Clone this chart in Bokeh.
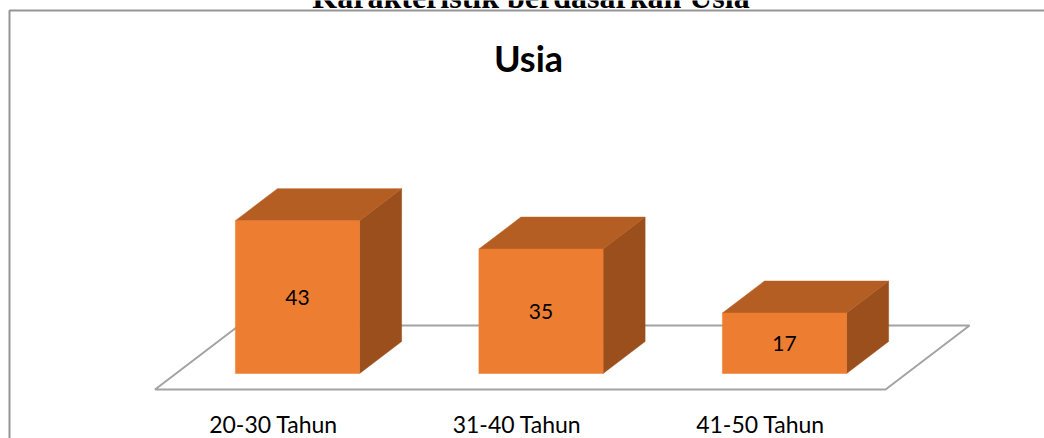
from bokeh.plotting import figure
from bokeh.models import Range1d
from bokeh.core.properties import value
from bokeh.embed import file_html
from bokeh.resources import INLINE

# Data
categories = ["20-30 Tahun", "31-40 Tahun", "41-50 Tahun"]
counts = [43, 35, 17]
chart_title = "Usia"
page_heading = "Karakteristik berdasarkan Usia"

# Canvas and axis ranges (x: category index, y: count)
W, H = 1044, 438
X0, X1 = -1.2197, 3.0677
Y0, Y1 = -18.28, 104.92

# 3D bar geometry in data units
BAR_W = 0.51
DX, DY = 0.1725, 9.0
FLOOR_FRONT, FLOOR_BACK = -4.5, 13.5
FLOOR_LEFT = -0.585

FRONT = "#ED7D31"
TOP = "#B55E23"
SIDE = "#9A4F1D"


def sx(px):
    return X0 + px / W * (X1 - X0)


def sy(py):
    return Y1 - py / H * (Y1 - Y0)


p = figure(width=W, height=H, output_backend="svg", toolbar_location=None,
           x_range=Range1d(X0, X1), y_range=Range1d(Y0, Y1),
           min_border=0, outline_line_color=None)
p.axis.visible = False
p.grid.visible = False
p.background_fill_color = "white"
p.border_fill_color = "white"

# Outer frame (top and left edges)
p.line([sx(9), sx(9), sx(W + 20)], [sy(H + 20), sy(10), sy(10)],
       line_color="#959595", line_width=2)

# Floor plane
n = len(categories)
fl, fr = FLOOR_LEFT, FLOOR_LEFT + n
span = (FLOOR_BACK - FLOOR_FRONT) / DY * DX
p.patch([fl, fr, fr + span, fl + span],
        [FLOOR_FRONT, FLOOR_FRONT, FLOOR_BACK, FLOOR_BACK],
        fill_color="white", line_color="#A3A3A3", line_width=2)

# Bars: side, top, front
xs = list(range(n))
lefts = [x - BAR_W / 2 for x in xs]
rights = [x + BAR_W / 2 for x in xs]

side_x = [[r, r + DX, r + DX, r] for r in rights]
side_y = [[0, DY, v + DY, v] for v in counts]
p.patches(side_x, side_y, fill_color=SIDE, line_color=SIDE, line_width=0.5)

top_x = [[l, r, r + DX, l + DX] for l, r in zip(lefts, rights)]
top_y = [[v, v, v + DY, v + DY] for v in counts]
p.patches(top_x, top_y, fill_color=TOP, line_color=TOP, line_width=0.5)

p.quad(left=lefts, right=rights, bottom=0, top=counts,
       fill_color=FRONT, line_color=FRONT, line_width=0.5)

# Value labels on the bar faces
p.text(x=xs, y=[v / 2 for v in counts], text=[str(v) for v in counts],
       text_font=value("Lato"), text_font_size="21px", text_color="black",
       text_align="center", text_baseline="middle")

# Category labels
p.text(x=[x - 0.0986 for x in xs], y=[-14.2] * n, text=categories,
       text_font=value("Lato"), text_font_size="23px", text_color="black",
       text_align="center", text_baseline="middle")

# Chart title
p.text(x=[sx(528)], y=[sy(57)], text=[chart_title],
       text_font=value("Lato"), text_font_style="bold", text_font_size="36px",
       text_color="black", text_align="center", text_baseline="middle")

# Page heading above the frame
p.text(x=[sx(530.5)], y=[sy(-3.5)], text=[page_heading],
       text_font=value("Liberation Serif"), text_font_style="bold",
       text_font_size="32px", text_color="black", text_align="center",
       text_baseline="alphabetic")

open("out.html", "w").write(file_html(p, INLINE))
